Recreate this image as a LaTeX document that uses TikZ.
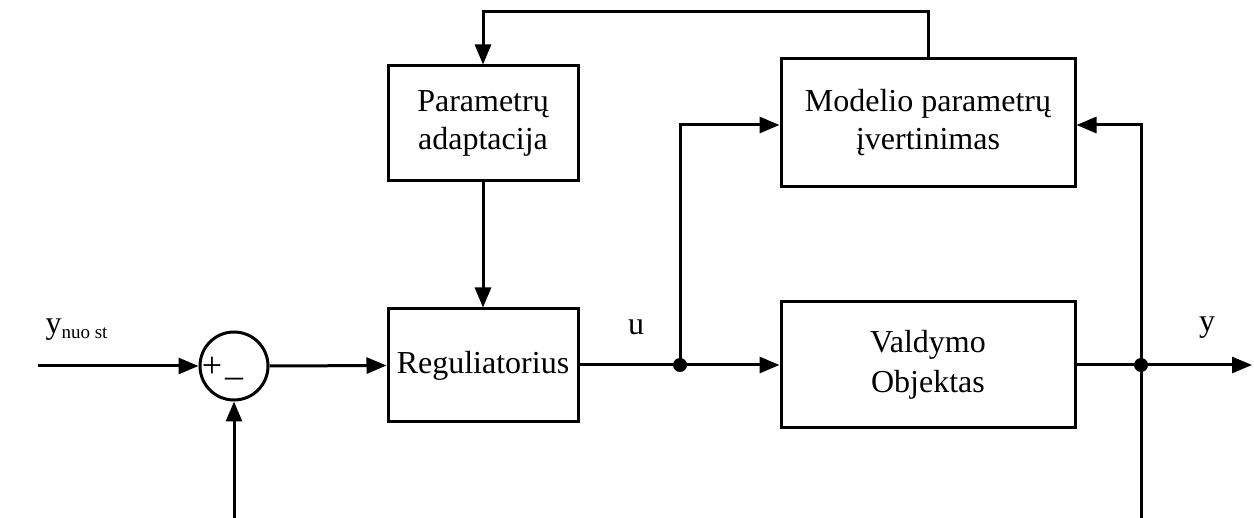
\documentclass[tikz,border=0pt]{standalone}
\usepackage{fontspec}
\setmainfont{Liberation Serif}
\usetikzlibrary{arrows.meta}
\begin{document}
\begin{tikzpicture}[x=1pt,y=-1pt,
  line width=3pt,
  blk/.style={draw,rectangle,inner sep=0pt,align=center,font=\fontsize{32}{38}\selectfont},
  sumnode/.style={draw,circle,inner sep=0pt,minimum size=68pt},
  arr/.style={-{Triangle[length=20pt,width=16pt]}},
  lbl/.style={inner sep=0pt,anchor=base,font=\fontsize{32}{36}\selectfont},
  sgn/.style={inner sep=0pt,font=\fontsize{36}{40}\selectfont},
  dot/.style={circle,fill,inner sep=0pt,minimum size=14pt}
]
\useasboundingbox (0,0) rectangle (1254,518);

% blocks
\node[blk,minimum width=190pt,minimum height=115pt] (par) at (483,123.5) {Parametrų\\adaptacija};
\node[blk,minimum width=190pt,minimum height=113pt] (reg) at (483,365.5) {Reguliatorius};
\node[blk,minimum width=294pt,minimum height=128pt] (model) at (928,123) {Modelio parametrų\\įvertinimas};
\node[blk,minimum width=294pt,minimum height=126pt,font=\fontsize{32}{40}\selectfont] (plant) at (928,365) {Valdymo\\Objektas};
\node[sumnode] (sum) at (234,366) {};

% sum signs
\node[sgn] (plus) at (212,367) {+};
\node[sgn] (minus) at (234,383) {–};

% coordinates
\coordinate (in) at (38,366);
\coordinate (j1) at (680,365);
\coordinate (j2) at (1141,365);
\coordinate (out) at (1252,365);
\coordinate (fb) at (234,518);
\coordinate (rb) at (1141,518);
\coordinate (tl) at (483,12);

% connectors
\draw[arr] (in) -- (sum.west);
\draw[arr] (sum.east) -- (reg.west);
\draw[arr] (fb) -- (sum.south);
\draw[arr] (par.south) -- (reg.north);
\draw (reg.east |- j1) -- (j1);
\draw[arr] (j1) -- (plant.west |- j1);
\draw[arr] (j1) |- ([yshift=-2pt]model.west);
\draw (plant.east |- j2) -- (j2);
\draw[arr] (j2) -- (out);
\draw[arr] (rb) |- ([yshift=-2pt]model.east);
\draw[arr] (model.north) |- (tl) -- (par.north);

\node[dot] (d1) at (j1) {};
\node[dot] (d2) at (j2) {};

% labels
\node[lbl,anchor=base west] (ylab) at (44,334) {y\raisebox{-5pt}{\fontsize{19}{22}\selectfont nuo st}};
\node[lbl] (ulab) at (636,335) {u};
\node[lbl] (youtlab) at (1207,332) {y};
\end{tikzpicture}
\end{document}
